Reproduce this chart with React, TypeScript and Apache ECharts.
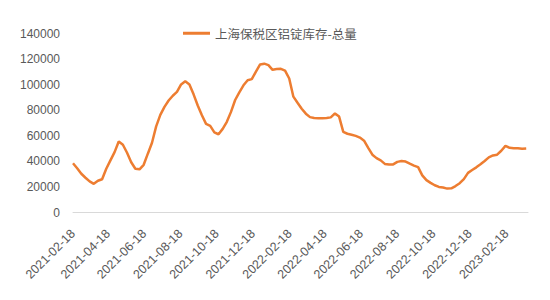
import React, { useEffect, useRef } from "react";
import * as echarts from "echarts";

const seriesName = "上海保税区铝锭库存-总量";
const startDate = "2021-02-18";
const stepDays = 7;
const inventory = [
  38500, 34600, 30300, 27200, 24300, 22400, 24800, 26000, 34200, 40800,
  47200, 55500, 53000, 46700, 39300, 34200, 33800, 37300, 46000, 54500,
  67400, 76300, 82600, 87600, 91300, 94300, 100200, 102600, 100100, 92400,
  83700, 76000, 69300, 67800, 62700, 61200, 65400, 70900, 78700, 88000,
  94000, 99500, 103500, 104300, 110200, 115800, 116400, 115300, 111600, 112200,
  112400, 111000, 104800, 90600, 85800, 81200, 77300, 74600, 73900, 73700,
  73700, 74000, 74400, 77500, 75000, 63000, 61600, 60800, 59900, 58600,
  56200, 50600, 45200, 42500, 40800, 38000, 37500, 37600, 39600, 40200,
  39800, 38200, 36700, 35500, 29000, 25300, 23200, 21300, 20000, 19500,
  18700, 18900, 20700, 22900, 26100, 31000, 33200, 35300, 37700, 40300,
  43100, 44600, 45200, 48300, 52100, 50600, 50200, 50200, 49800, 50000,
];
const tickLabels = [
  "2021-02-18", "2021-04-18", "2021-06-18", "2021-08-18", "2021-10-18",
  "2021-12-18", "2022-02-18", "2022-04-18", "2022-06-18", "2022-08-18",
  "2022-10-18", "2022-12-18", "2023-02-18",
];
const yTicks = [0, 20000, 40000, 60000, 80000, 100000, 120000, 140000];

const DAY = 86400000;
const toDay = (s: string) => {
  const [y, m, d] = s.split("-").map(Number);
  return Math.round(Date.UTC(y, m - 1, d) / DAY);
};
const fmtDay = (v: number) => {
  const d = new Date(Math.round(v) * DAY);
  const p = (n: number) => (n < 10 ? "0" + n : "" + n);
  return d.getUTCFullYear() + "-" + p(d.getUTCMonth() + 1) + "-" + p(d.getUTCDate());
};

export default function App() {
  const ref = useRef<HTMLDivElement>(null);
  useEffect(() => {
    if (!ref.current) return;
    const chart = echarts.init(ref.current, undefined, { renderer: "svg" });
    const d0 = toDay(startDate);
    const data = inventory.map((v, i) => [d0 + i * stepDays, v]);
    const tickDays = tickLabels.map(toDay);
    chart.setOption({
      animation: false,
      backgroundColor: "#ffffff",
      textStyle: { fontFamily: "'Liberation Sans', 'Noto Sans CJK SC', sans-serif" },
      legend: {
        top: 22,
        left: 178,
        icon: "rect",
        itemWidth: 27,
        itemHeight: 3,
        itemGap: 4,
        textStyle: { color: "#595959", fontSize: 12.5, fontFamily: "'Noto Sans CJK SC', sans-serif" },
        data: [seriesName],
      },
      grid: { left: 73, right: 22, top: 33.5, bottom: 87.5, containLabel: false },
      xAxis: {
        type: "value",
        min: d0,
        max: d0 + 766,
        axisLine: { show: true, onZero: false, lineStyle: { color: "#D9D9D9", width: 1 } },
        axisTick: { show: false },
        splitLine: { show: false },
        axisLabel: {
          customValues: tickDays,
          rotate: 45,
          margin: 19,
          color: "#595959",
          fontSize: 12.5,
          formatter: (v: number) => fmtDay(v),
        },
      },
      yAxis: {
        type: "value",
        min: yTicks[0],
        max: yTicks[yTicks.length - 1],
        interval: 20000,
        axisLine: { show: false },
        axisTick: { show: false },
        splitLine: { show: false },
        axisLabel: { color: "#595959", fontSize: 12, margin: 13, formatter: (v: number) => String(v) },
      },
      series: [
        {
          name: seriesName,
          type: "line",
          data,
          symbol: "none",
          smooth: false,
          lineStyle: { color: "#ED7D31", width: 2.5 },
          itemStyle: { color: "#ED7D31" },
        },
      ],
    });
    return () => chart.dispose();
  }, []);
  return (
    <div
      ref={ref}
      style={{ position: "fixed", left: 0, top: 0, width: 550, height: 300, background: "#fff" }}
    />
  );
}
